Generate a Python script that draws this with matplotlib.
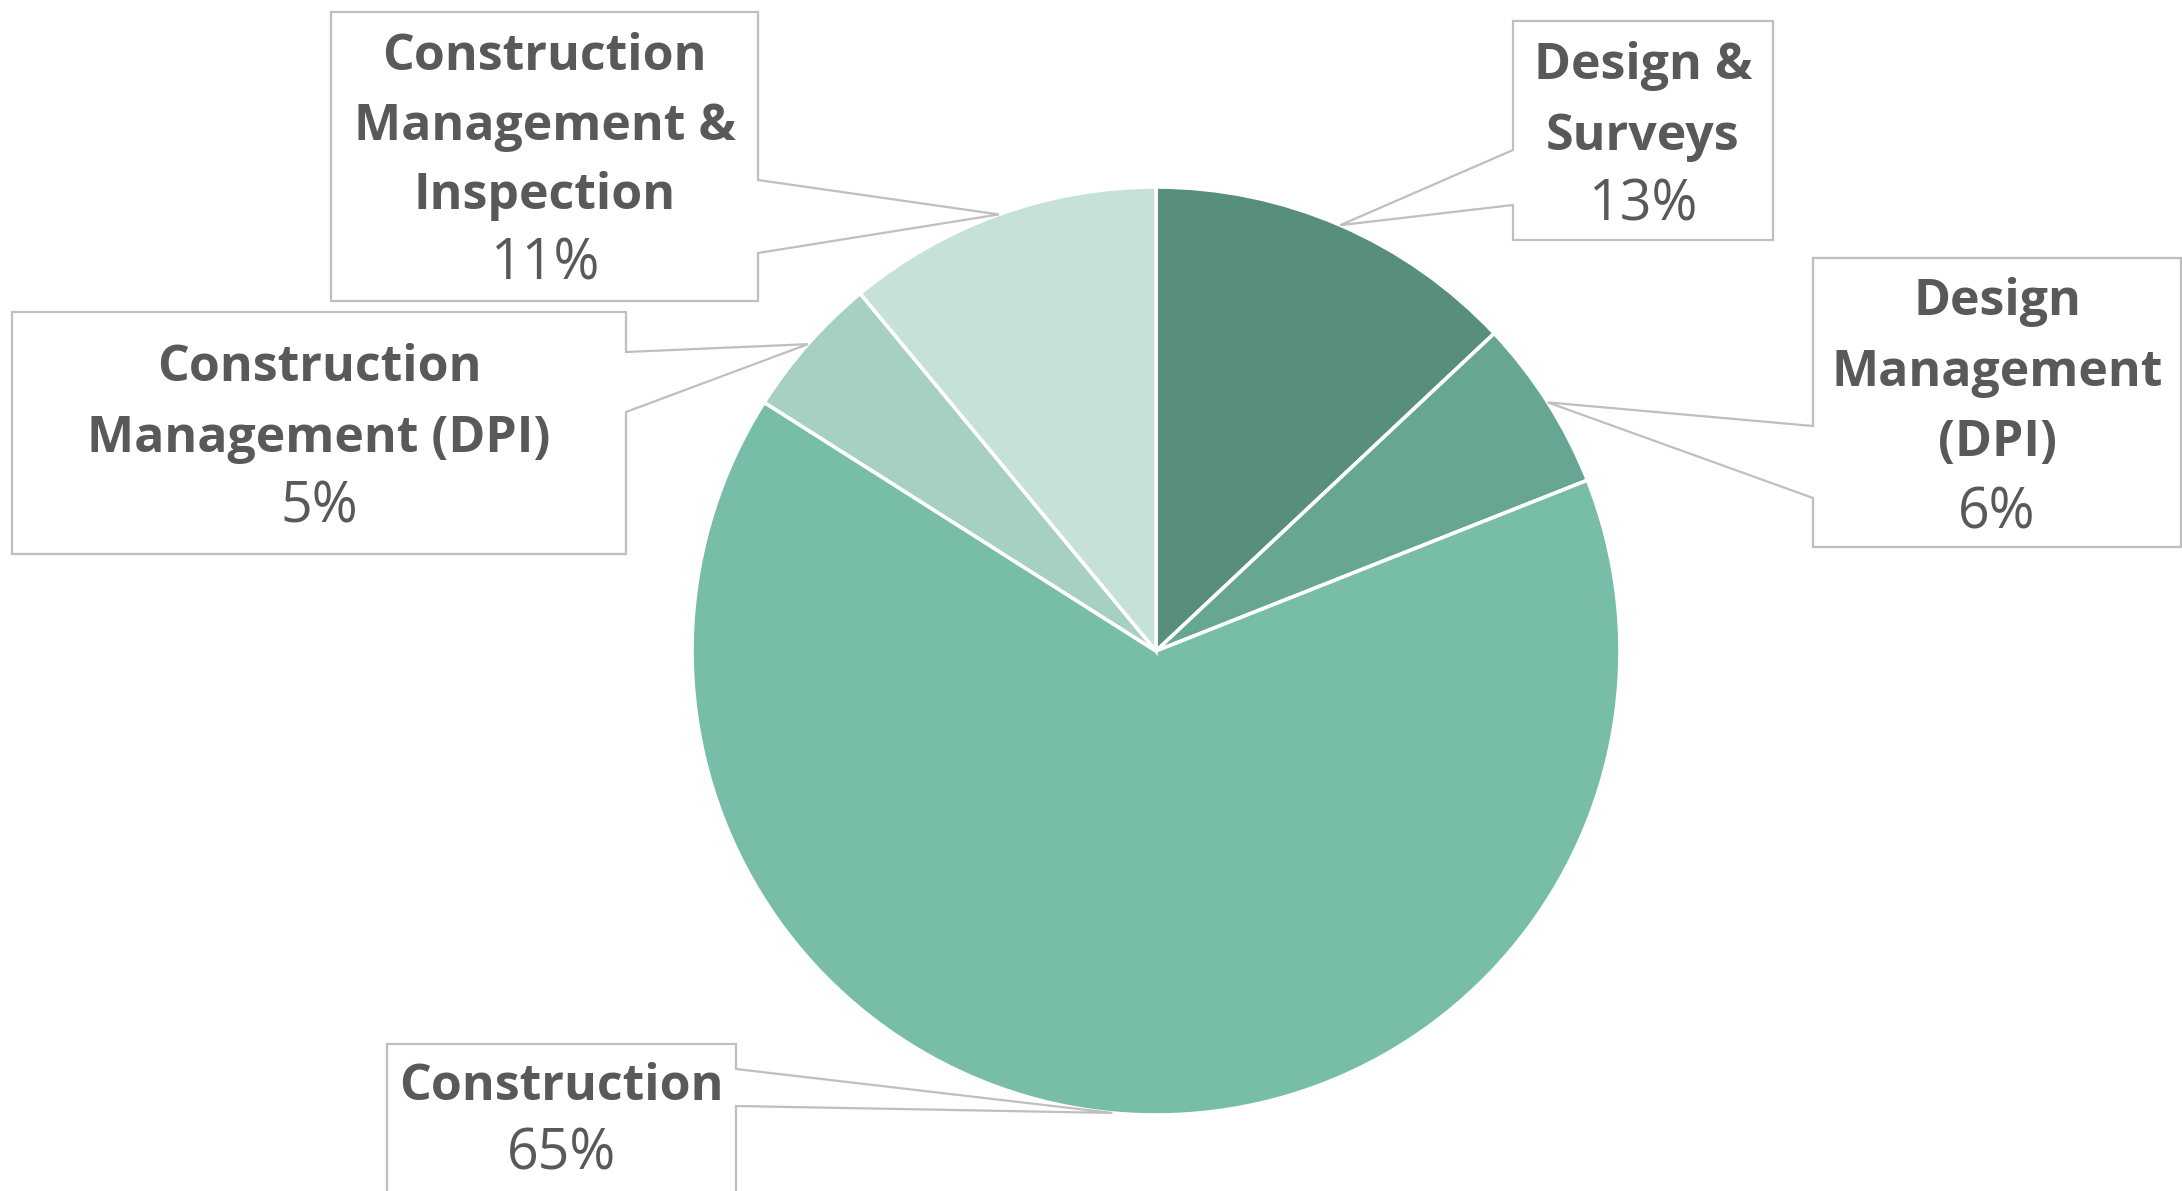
import numpy as np
import matplotlib
matplotlib.use("Agg")
import matplotlib.pyplot as plt
from matplotlib.patches import Polygon

# ---- data ----
categories = ["Design &\nSurveys", "Design\nManagement\n(DPI)", "Construction",
              "Construction\nManagement (DPI)", "Construction\nManagement &\nInspection"]
values = [13, 6, 65, 5, 11]
pct_labels = ["13%", "6%", "65%", "5%", "11%"]
colors = ["#578E7C", "#67A693", "#77BDA7", "#A6D0C2", "#C6E1D7"]

W, H = 2182, 1191
CX, CY, R = 1156, 651, 464  # pixel geometry of the pie

fig = plt.figure(figsize=(W / 100, H / 100), dpi=100)
ax = fig.add_axes([0, 0, 1, 1])

wedges, _ = ax.pie(values, colors=colors, startangle=90, counterclock=False,
                   radius=1.0, wedgeprops=dict(edgecolor="white", linewidth=2.6))
ax.set_aspect("auto")
ax.set_xlim(-CX / R, (W - CX) / R)
ax.set_ylim((CY - H) / R, CY / R)
ax.axis("off")


def px(x, y):
    return ((x - CX) / R, (CY - y) / R)


# box layout in pixel coords: (left, top, right, bottom, side, attach_y1, attach_y2, line_y list)
boxes = [
    (1513, 21, 1773, 240, "left", 150, 205, [63, 134, 203]),
    (1813, 258, 2181, 547, "left", 426, 498, [299, 370, 440, 511]),
    (387, 1044, 736, 1250, "right", 1069, 1106, [1084, 1152]),
    (12, 312, 626, 554, "right", 352, 412, [365, 436, 505]),
    (331, 12, 758, 301, "right", 180, 253, [54, 124, 193, 262]),
]

text_color = "#595959"
edge_gray = "#BFBFBF"
fam = ["Open Sans", "DejaVu Sans"]

cum = np.cumsum([0] + values)
total = float(sum(values))
for i, (w, b) in enumerate(zip(wedges, boxes)):
    l, t, r, btm, side, a1, a2, ys = b
    mid = np.deg2rad(90 - 360 * (cum[i] + values[i] / 2) / total)
    tip = (np.cos(mid), np.sin(mid))
    if side == "left":
        verts = [px(l, t), px(r, t), px(r, btm), px(l, btm), px(l, a2), tip, px(l, a1)]
    else:
        verts = [px(l, t), px(r, t), px(r, a1), tip, px(r, a2), px(r, btm), px(l, btm)]
    poly = Polygon(verts, closed=True, facecolor="white", edgecolor=edge_gray,
                   linewidth=1.6, zorder=3)
    ax.add_patch(poly)
    cxp = (l + min(r, W)) / 2
    lines = categories[i].split("\n")
    for j, ln in enumerate(lines):
        x, y = px(cxp, ys[j] + 3)
        ax.text(x, y, ln, ha="center", va="center", fontsize=36, fontweight="bold",
                family=fam, color=text_color, zorder=4)
    x, y = px(cxp, ys[-1] + 3)
    ax.text(x, y, pct_labels[i], ha="center", va="center", fontsize=40,
            family=fam, color=text_color, zorder=4)

fig.savefig("out.png", dpi=100, facecolor="white")
